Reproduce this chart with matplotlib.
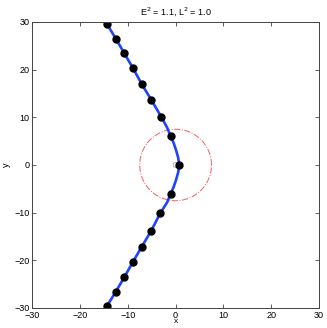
import matplotlib
matplotlib.use('Agg')
import matplotlib.pyplot as plt
import numpy as np

plt.rcParams['font.family'] = ['Liberation Sans', 'DejaVu Sans']

# sampled positions (dots) along the orbit
dot_x = [-14.3, -12.5, -10.7, -8.9, -7.1, -5.1, -3.0, -1.0, 0.77,
         -1.0, -3.2, -5.1, -7.1, -8.9, -10.7, -12.5, -14.3]
dot_y = [29.5, 26.5, 23.4, 20.3, 17.0, 13.7, 10.1, 6.0, 0.0,
         -6.0, -10.1, -13.8, -17.2, -20.3, -23.5, -26.6, -29.5]

# orbit track
line_x = [-14.6, -14.3, -12.5, -10.7, -8.9, -7.1, -5.1, -3.0, -1.8, -1.0, -0.4, 0.1, 0.55, 0.77,
          0.55, 0.1, -0.4, -1.0, -1.8, -3.2, -5.1, -7.1, -8.9, -10.7, -12.5, -14.3, -14.6]
line_y = [30.0, 29.5, 26.5, 23.4, 20.3, 17.0, 13.7, 10.1, 7.9, 6.0, 4.6, 3.1, 1.5, 0.0,
          -1.5, -3.1, -4.6, -6.0, -7.9, -10.1, -13.8, -17.2, -20.3, -23.5, -26.6, -29.5, -30.0]

circle_r = 7.5   # red dash-dot circle
inner_r = 0.5    # small grey circle

fig = plt.figure(figsize=(3.27, 3.28), dpi=100)
ax = fig.add_axes([0.098, 0.061, 0.878, 0.872])

t = np.linspace(0, 2 * np.pi, 300)
ax.plot(circle_r * np.cos(t), circle_r * np.sin(t), color='#f06060', ls='-.', lw=0.7)
ax.plot(inner_r * np.cos(t), inner_r * np.sin(t), color='#909090', lw=0.5)
ax.plot(line_x, line_y, color='#1f44ff', lw=1.9, solid_joinstyle='round')
ax.plot(dot_x, dot_y, 'o', color='black', ms=5)

ax.set_xlim(-30, 30)
ax.set_ylim(-30, 30)
ax.set_xticks([-30, -20, -10, 0, 10, 20, 30])
ax.set_yticks([-30, -20, -10, 0, 10, 20, 30])
ax.tick_params(direction='in', length=3, width=0.6, color='#444444',
               labelsize=6.5, top=True, right=True, pad=2)
for s in ax.spines.values():
    s.set_color('#444444')
    s.set_linewidth(0.7)

ax.set_title('E$^2$ = 1.1, L$^2$ = 1.0', fontsize=6.5, pad=5)
ax.set_xlabel('x', fontsize=6, labelpad=-1)
ax.set_ylabel('y', fontsize=6.5, labelpad=2)

fig.savefig('out.png', dpi=100)
